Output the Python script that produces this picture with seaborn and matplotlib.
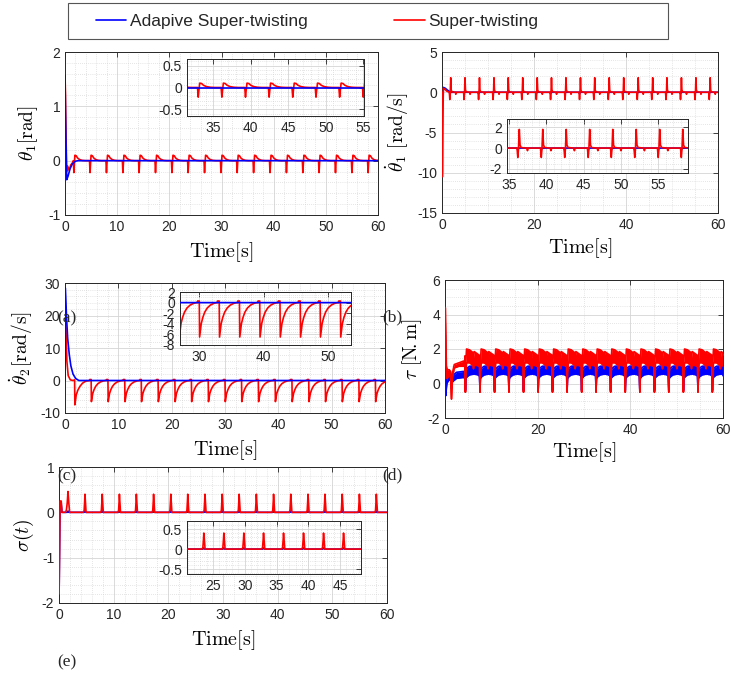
import numpy as np
import pandas as pd
import matplotlib
matplotlib.use("Agg")
import matplotlib.pyplot as plt
from matplotlib.patches import Rectangle
from matplotlib.lines import Line2D
from matplotlib.ticker import MultipleLocator
import seaborn as sns

# ---------------------------------------------------------------- data
# times at which the periodic disturbance events happen
spike_times = [1.7, 4.8, 7.95, 11.1, 14.2, 17.35, 20.5, 23.6, 26.75, 29.9,
               33.0, 36.15, 39.3, 42.45, 45.6, 48.7, 51.85, 55.0, 58.1]
t_end = 60.0

# theta_1 [rad]
th1_ast_t = [0, 0.08, 0.33, 0.6, 0.96, 1.4, 2.0, 2.5]
th1_ast_v = [1.57, 0.9, -0.35, -0.28, -0.15, -0.06, -0.01, 0.0]
th1_st_t = [0, 0.1, 0.3, 0.5, 0.8, 1.1, 1.35, 1.55]
th1_st_v = [1.57, 1.2, -0.2, -0.1, -0.18, -0.08, -0.05, -0.02]
th1_st_pulse_dt = [-0.1, 0.0, 0.1, 0.2, 0.45, 0.7, 1.1, 1.6, 2.2]
th1_st_pulse_v = [0.0, -0.22, -0.04, 0.1, 0.09, 0.05, 0.02, 0.005, 0.0]

# theta_1 dot [rad/s]
th1d_ast_t = [0, 0.05, 0.15, 0.3, 0.7, 1.2, 1.8, 2.5]
th1d_ast_v = [0, -10.0, -2.0, 0.6, 0.5, 0.25, 0.05, 0.0]
th1d_ast_pulse_dt = [-0.1, 0.0, 0.1]
th1d_ast_pulse_v = [0.0, -0.2, 0.0]
th1d_st_t = [0, 0.08, 0.18, 0.3, 0.6, 1.0, 1.4]
th1d_st_v = [0, -10.5, -3.0, 0.5, 0.4, 0.15, 0.05]
th1d_st_pulse_dt = [-0.1, 0.0, 0.1, 0.2, 0.3, 0.45, 1.2, 1.3, 1.4]
th1d_st_pulse_v = [0.0, -0.9, 0.0, 1.8, 0.3, 0.05, 0.0, -0.25, 0.0]

# theta_2 dot [rad/s]
th2d_ast_t = [0, 0.05, 0.12, 0.3, 0.5, 0.8, 1.1, 1.5, 2.0, 2.6]
th2d_ast_v = [0, 28.5, 26, 19, 13, 8, 4.5, 2, 0.6, 0]
th2d_st_t = [0, 0.06, 0.15, 0.35, 0.6, 1.0, 1.5, 1.8, 1.85, 2.1, 2.4, 2.8, 3.3, 3.9, 4.5]
th2d_st_v = [0, 23, 18, 6, 1.5, 0.2, 0, 0.2, -7.5, -4.5, -3.0, -1.8, -0.8, -0.2, 0]
th2d_st_pulse_dt = [-0.2, -0.15, 0.1, 0.15, 0.4, 0.65, 0.95, 1.35, 1.85, 2.4, 2.8]
th2d_st_pulse_v = [0, 0.3, 0.3, -6.5, -4.0, -2.8, -1.8, -1.0, -0.45, -0.12, 0]

# tau [N.m]  (chattering band given by its upper / lower envelopes)
tau_ast_t = [0, 0.05, 0.15, 0.4, 0.8, 1.2, 1.4, 1.6, 2.5, 4.0, 4.25]
tau_ast_up = [2.8, 2.8, -0.7, 0.35, 0.55, 0.55, -0.3, 0.45, 0.65, 0.7, 0.65]
tau_ast_lo = [2.8, 2.8, -0.7, 0.0, 0.2, 0.2, -0.3, 0.1, 0.3, 0.35, 0.3]
tau_ast_pulse_dt = [-0.5, -0.4, -0.3, 0.0, 0.5, 1.5, 2.3, 2.55]
tau_ast_pulse_up = [0.85, -0.4, 0.75, 0.9, 1.0, 1.02, 1.0, 0.95]
tau_ast_pulse_lo = [0.4, -0.4, 0.3, 0.4, 0.5, 0.55, 0.5, 0.45]
tau_st_t = [0, 0.05, 0.3, 0.5, 0.9, 1.2, 1.4, 1.6, 2.0, 3.0, 4.0, 4.25]
tau_st_up = [2.0, 4.4, 1.0, 0.8, 0.8, 0.7, -0.9, 0.6, 1.1, 1.2, 1.3, 1.3]
tau_st_lo = [2.0, 4.4, 0.3, 0.3, 0.5, 0.4, -0.9, 0.3, 0.9, 1.0, 1.0, 1.0]
tau_st_pulse_dt = [-0.5, -0.4, -0.3, -0.15, 0.5, 1.2, 1.35, 1.5, 2.55]
tau_st_pulse_up = [1.6, -0.5, 1.3, 2.0, 1.95, 1.8, 1.5, 1.85, 1.65]
tau_st_pulse_lo = [1.0, -0.5, 0.6, 1.2, 1.2, 1.05, 0.85, 1.1, 1.0]

# sigma(t)
sig_ast_t = [0, 0.02, 0.2, 0.4, 0.55, 1.0]
sig_ast_v = [-1.78, -1.78, 0.22, 0.2, 0.0, 0.0]
sig_ast_pulse_dt = [-0.2, -0.05, 0.1]
sig_ast_pulse_v = [0.0, 0.03, 0.0]
sig_st_t = [0, 0.02, 0.2, 0.4, 0.55, 1.2, 1.35, 1.5, 1.65, 1.8, 1.95]
sig_st_v = [-1.8, -1.8, 0.25, 0.25, 0.0, 0.0, 0.05, 0.2, 0.46, 0.2, 0.0]
sig_st_pulse_dt = [-0.35, -0.2, -0.1, -0.05, 0.05, 0.15]
sig_st_pulse_v = [0.0, 0.04, 0.25, 0.4, 0.2, 0.0]

legend_labels = ["Adapive Super-twisting", "Super-twisting"]
panel_tags = ["(a)", "(b)", "(c)", "(d)", "(e)"]


def build(t0, v0, pdt, pv, times):
    t = list(t0)
    v = list(v0)
    for ts in times:
        t += [ts + d for d in pdt]
        v += list(pv)
    t.append(t_end)
    v.append(v[-1])
    return np.array(t), np.array(v)


th1_ast = build(th1_ast_t, th1_ast_v, [], [], [])
th1_st = build(th1_st_t, th1_st_v, th1_st_pulse_dt, th1_st_pulse_v, spike_times)
th1d_ast = build(th1d_ast_t, th1d_ast_v, th1d_ast_pulse_dt, th1d_ast_pulse_v, spike_times)
th1d_st = build(th1d_st_t, th1d_st_v, th1d_st_pulse_dt, th1d_st_pulse_v, spike_times)
th2d_ast = build(th2d_ast_t, th2d_ast_v, [], [], [])
th2d_st = build(th2d_st_t, th2d_st_v, th2d_st_pulse_dt, th2d_st_pulse_v, spike_times[1:])
tau_ast_u = build(tau_ast_t, tau_ast_up, tau_ast_pulse_dt, tau_ast_pulse_up, spike_times[1:])
tau_ast_l = build(tau_ast_t, tau_ast_lo, tau_ast_pulse_dt, tau_ast_pulse_lo, spike_times[1:])
tau_st_u = build(tau_st_t, tau_st_up, tau_st_pulse_dt, tau_st_pulse_up, spike_times[1:])
tau_st_l = build(tau_st_t, tau_st_lo, tau_st_pulse_dt, tau_st_pulse_lo, spike_times[1:])
sig_ast = build(sig_ast_t, sig_ast_v, sig_ast_pulse_dt, sig_ast_pulse_v, spike_times)
sig_st = build(sig_st_t, sig_st_v, sig_st_pulse_dt, sig_st_pulse_v, spike_times[1:])

# ---------------------------------------------------------------- style
sns.set_style("white")
plt.rcParams["font.family"] = ["Liberation Sans", "DejaVu Sans"]
plt.rcParams["mathtext.fontset"] = "cm"

W, H = 731, 673
BLUE, RED = "#0000FF", "#FF0000"
FRAME = "#262626"
LW = 1.2
fig = plt.figure(figsize=(W / 100, H / 100), dpi=100)


def rect(l, t, r, b):
    return [l / W, 1 - b / H, (r - l) / W, (b - t) / H]


def style(ax, xlim, ylim, xmaj, xmin, ymaj, ymin, fs=10):
    ax.set_xlim(*xlim)
    ax.set_ylim(*ylim)
    ax.xaxis.set_major_locator(MultipleLocator(xmaj))
    ax.xaxis.set_minor_locator(MultipleLocator(xmin))
    ax.yaxis.set_major_locator(MultipleLocator(ymaj))
    ax.yaxis.set_minor_locator(MultipleLocator(ymin))
    ax.grid(True, which="major", color="#d4d4d4", lw=0.6, ls="-")
    ax.grid(True, which="minor", color="#cccccc", lw=0.5, ls=(0, (1, 2)))
    ax.set_axisbelow(True)
    ax.tick_params(which="both", direction="in", top=True, right=True,
                   colors=FRAME, labelsize=fs, labelcolor=FRAME)
    ax.tick_params(which="major", length=3.5, width=0.6)
    ax.tick_params(which="minor", length=0)
    for s in ax.spines.values():
        s.set_color(FRAME)
        s.set_linewidth(0.7)
    ax.set_xlabel("")
    ax.set_ylabel("")
    ax.yaxis.set_major_formatter(plt.FuncFormatter(lambda v, p: f"{v:g}"))
    ax.xaxis.set_major_formatter(plt.FuncFormatter(lambda v, p: f"{v:g}"))


def line(ax, tv, color, z=2):
    sns.lineplot(x=tv[0], y=tv[1], ax=ax, color=color, lw=LW,
                 estimator=None, sort=False, zorder=z, legend=False)


def band(ax, up, lo, color, z=2):
    ax.fill_between(up[0], lo[1], up[1], color=color, lw=0, zorder=z)
    line(ax, up, color, z)
    line(ax, lo, color, z)


def labels(ax, box, ylab, ylab_x, xlab_y):
    l, t, r, b = box
    ax.set_ylabel(ylab, fontsize=14, color="black")
    ax.yaxis.label.set_va("center")
    ax.yaxis.set_label_coords((ylab_x - l) / (r - l), 0.5)
    ax.set_xlabel(r"$\mathrm{Time[s]}$", fontsize=14.5, color="black")
    ax.xaxis.label.set_va("center")
    ax.xaxis.set_label_coords(0.5, (b - xlab_y) / (b - t))


# ---- panel 1 : theta_1
b1 = (65, 52, 378, 215)
ax1 = fig.add_axes(rect(*b1))
line(ax1, th1_st, RED, 2)
line(ax1, th1_ast, BLUE, 3)
style(ax1, (0, 60), (-1, 2), 10, 2, 1, 0.2)
labels(ax1, b1, r"$\theta_1[\mathrm{rad}]$", 28, 252)
in1 = fig.add_axes(rect(187, 59, 364, 116), zorder=5)
in1.set_facecolor("white")
line(in1, th1_st, RED, 2)
line(in1, th1_ast, BLUE, 3)
style(in1, (31.5, 55.1), (-0.65, 0.65), 5, 1, 0.5, 0.1)

# ---- panel 2 : theta_1 dot
b2 = (442, 52, 718, 213)
ax2 = fig.add_axes(rect(*b2))
line(ax2, th1d_ast, BLUE, 2)
line(ax2, th1d_st, RED, 3)
style(ax2, (0, 60), (-15, 5), 20, 5, 5, 1)
labels(ax2, b2, r"$\dot{\theta}_1\ [\mathrm{rad/s}]$", 397, 248)
in2 = fig.add_axes(rect(507, 119, 688, 173), zorder=5)
in2.set_facecolor("white")
line(in2, th1d_ast, BLUE, 2)
line(in2, th1d_st, RED, 3)
style(in2, (34.7, 59), (-2.4, 2.8), 5, 1, 2, 0.5)

# ---- panel 3 : theta_2 dot
b3 = (65, 283, 385, 413)
ax3 = fig.add_axes(rect(*b3))
line(ax3, th2d_st, RED, 2)
line(ax3, th2d_ast, BLUE, 3)
style(ax3, (0, 60), (-10, 30), 10, 2, 10, 2)
labels(ax3, b3, r"$\dot{\theta}_2[\mathrm{rad/s}]$", 21, 450)
in3 = fig.add_axes(rect(180, 292, 351, 345), zorder=5)
in3.set_facecolor("white")
line(in3, th2d_st, RED, 2)
line(in3, th2d_ast, BLUE, 3)
style(in3, (27, 53.6), (-8, 2), 10, 2, 2, 0.5)

# ---- panel 4 : tau
b4 = (445, 280, 723, 418)
ax4 = fig.add_axes(rect(*b4))
band(ax4, tau_ast_u, tau_ast_l, BLUE, 2)
band(ax4, tau_st_u, tau_st_l, RED, 3)
style(ax4, (0, 60), (-2, 6), 20, 5, 2, 0.5)
labels(ax4, b4, r"$\tau\ [\mathrm{N}\!.\mathrm{m}]$", 412, 452)

# ---- panel 5 : sigma
b5 = (59, 467, 387, 603)
ax5 = fig.add_axes(rect(*b5))
line(ax5, sig_ast, BLUE, 2)
line(ax5, sig_st, RED, 3)
style(ax5, (0, 60), (-2, 1), 10, 2, 1, 0.2)
labels(ax5, b5, r"$\sigma(t)$", 24, 640)
in5 = fig.add_axes(rect(187, 521, 361, 574), zorder=5)
in5.set_facecolor("white")
line(in5, sig_ast, BLUE, 2)
line(in5, sig_st, RED, 3)
style(in5, (20.9, 48.3), (-0.62, 0.7), 5, 1, 0.5, 0.1)

# ---- panel tags
tag_pos = [(57, 318), (382, 317), (57, 476), (382, 475), (57, 662)]
for tag, (x, y) in zip(panel_tags, tag_pos):
    fig.text(x / W, 1 - y / H, tag, family="Liberation Serif", fontsize=12.5,
             ha="left", va="center", zorder=10)

# ---- legend
fig.patches.append(Rectangle((68 / W, 1 - 39 / H), 600 / W, 36 / H,
                             transform=fig.transFigure, fill=False,
                             edgecolor="#555555", lw=0.8))
handles = [Line2D([], [], color=BLUE, lw=1.2), Line2D([], [], color=RED, lw=1.2)]
fig.legend(handles, legend_labels, loc="center left",
           bbox_to_anchor=(96 / W, 1 - 21 / H), ncol=2, frameon=False,
           fontsize=12.5, handlelength=1.75, handletextpad=0.2,
           columnspacing=5.0, borderpad=0, borderaxespad=0)

fig.savefig("out.png", dpi=100)
